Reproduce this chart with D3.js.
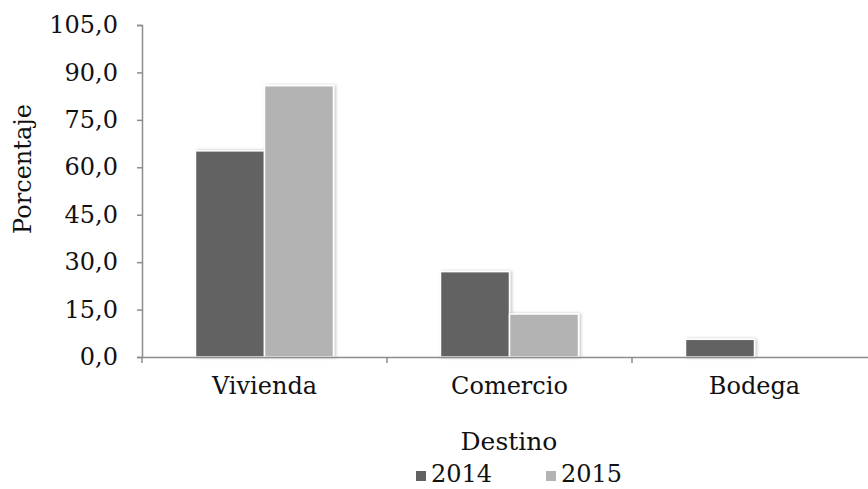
<!DOCTYPE html>
<html>
<head>
<meta charset="utf-8">
<script src="https://cdn.jsdelivr.net/npm/d3@7"></script>
<style>
  html, body { margin: 0; padding: 0; background: #fff; }
  svg { display: block; }
  text { font-family: "DejaVu Serif", "Liberation Serif", serif; fill: #111; }
</style>
</head>
<body>
<script>
const width = 868
const height = 489

const categories = ["Vivienda", "Comercio", "Bodega"]
const years = ["2014", "2015"]
const values2014 = [65.2, 27.0, 5.6]
const values2015 = [85.8, 13.6, 0]
const yTicks = [0, 15, 30, 45, 60, 75, 90, 105]

const colors = { "2014": "#626262", "2015": "#b3b3b3" }

const margin = { top: 25, left: 142, bottom: 132 }
const plotRight = 877

const rows = categories.map((c, i) => ({
    category: c,
    values: [
        { year: "2014", value: values2014[i] },
        { year: "2015", value: values2015[i] },
    ],
}))

const x = d3.scaleBand()
    .domain(categories)
    .range([margin.left, plotRight])
    .paddingInner(0)
    .paddingOuter(0)

const xInner = d3.scaleBand()
    .domain(years)
    .range([0, x.bandwidth()])
    .paddingOuter(0.775)
    .paddingInner(0.0)

const y = d3.scaleLinear()
    .domain([0, 105])
    .range([height - margin.bottom, margin.top])

const fmt = (d) => d3.format(".1f")(d).replace(".", ",")

const svg = d3
    .select("body")
    .append("svg")
    .attr("width", width)
    .attr("height", height)
    .attr("viewBox", [0, 0, width, height])

const defs = svg.append("defs")
const shadow = defs.append("filter")
    .attr("id", "shadow")
    .attr("x", "-20%").attr("y", "-20%")
    .attr("width", "140%").attr("height", "140%")
shadow.append("feDropShadow")
    .attr("dx", 1.5).attr("dy", 0)
    .attr("stdDeviation", 1.5)
    .attr("flood-color", "#000")
    .attr("flood-opacity", 0.25)

// bars
svg.append("g")
    .selectAll("g")
    .data(rows)
    .join("g")
    .attr("transform", (d) => `translate(${x(d.category)},0)`)
    .selectAll("rect")
    .data((d) => d.values.filter((v) => v.value > 0))
    .join("rect")
    .attr("x", (d) => xInner(d.year))
    .attr("y", (d) => y(d.value))
    .attr("width", xInner.bandwidth())
    .attr("height", (d) => y(0) - y(d.value))
    .attr("fill", (d) => colors[d.year])
    .attr("stroke", "#fff")
    .attr("stroke-width", 1.5)
    .attr("filter", "url(#shadow)")

// y axis
const yAxis = svg.append("g")
    .attr("transform", `translate(${margin.left},0)`)
    .call(d3.axisLeft(y).tickValues(yTicks).tickFormat(fmt).tickSize(5).tickPadding(19))
yAxis.select(".domain").attr("stroke", "#8c8c8c").attr("stroke-width", 1.5)
yAxis.selectAll(".tick line").attr("stroke", "#8c8c8c").attr("stroke-width", 1.5)
yAxis.selectAll(".tick text")
    .attr("font-size", 24)
    .attr("font-family", "DejaVu Serif, serif")
    .attr("fill", "#111")

// x axis
const xAxis = svg.append("g")
    .attr("transform", `translate(0,${y(0)})`)
    .call(d3.axisBottom(x).tickSize(0).tickPadding(20))
xAxis.select(".domain").attr("stroke", "#8c8c8c").attr("stroke-width", 1.5)
xAxis.selectAll(".tick text")
    .attr("font-size", 24)
    .attr("font-family", "DejaVu Serif, serif")
    .attr("fill", "#111")

// category separator ticks
svg.append("g")
    .selectAll("line")
    .data(categories)
    .join("line")
    .attr("x1", (d) => x(d))
    .attr("x2", (d) => x(d))
    .attr("y1", y(0))
    .attr("y2", y(0) + 6)
    .attr("stroke", "#8c8c8c")
    .attr("stroke-width", 1.5)

// axis titles
svg.append("text")
    .attr("transform", `translate(31,169) rotate(-90)`)
    .attr("text-anchor", "middle")
    .attr("font-size", 24)
    .text("Porcentaje")

svg.append("text")
    .attr("x", 509)
    .attr("y", 450)
    .attr("text-anchor", "middle")
    .attr("font-size", 25)
    .text("Destino")

// legend
const legend = svg.append("g")
    .selectAll("g")
    .data(years)
    .join("g")
    .attr("transform", (d, i) => `translate(${416 + i * 130},0)`)
legend.append("rect")
    .attr("x", 0)
    .attr("y", 471)
    .attr("width", 10)
    .attr("height", 10)
    .attr("fill", (d) => colors[d])
legend.append("text")
    .attr("x", 15)
    .attr("y", 482)
    .attr("font-size", 24)
    .text((d) => d)
</script>
</body>
</html>
